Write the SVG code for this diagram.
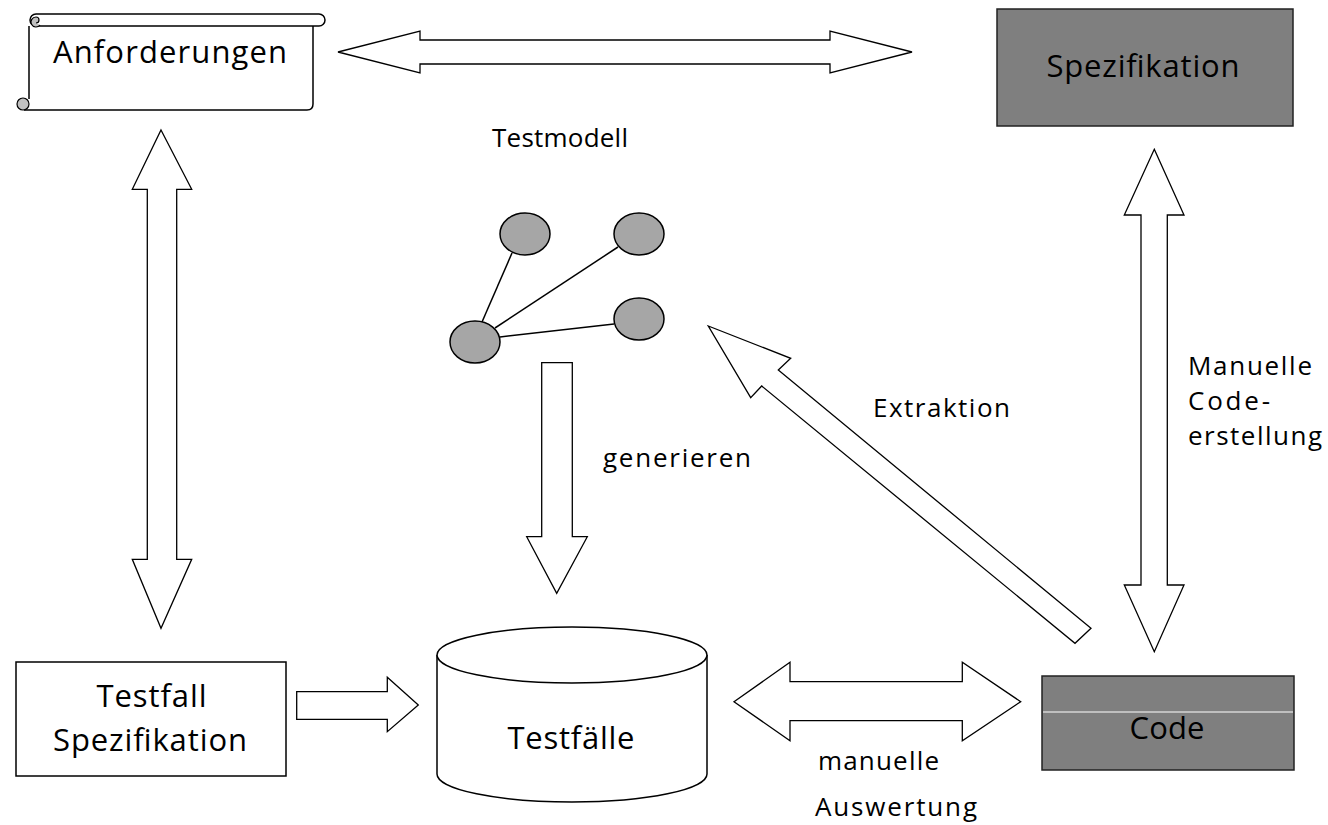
<svg xmlns="http://www.w3.org/2000/svg" width="1328" height="825" viewBox="0 0 1328 825">
<style>
  .lbl { font-family: "Open Sans", "Noto Sans", sans-serif; fill: #000; }
  .big { font-size: 31px; }
  .sm { font-size: 26px; }
  .arrow { fill: #fff; stroke: #000; stroke-width: 1.3; stroke-linejoin: miter; }
  .edge { stroke: #000; stroke-width: 1.5; fill: none; }
  .node { fill: #a6a6a6; stroke: #000; stroke-width: 1.5; }
  .dark { fill: #7f7f7f; stroke: #222; stroke-width: 1.5; }
</style>
<rect width="1328" height="825" fill="#fff"/>

<g id="connectors">
  <!-- top horizontal double arrow -->
  <polygon class="arrow" points="338,52 420,31 420,40 830,40 830,31 912,52 830,73 830,64 420,64 420,73"/>
  <!-- left vertical double arrow -->
  <polygon class="arrow" points="161,130 191.7,189.3 176.7,189.3 176.7,559.3 191.7,559.3 161,628.3 132.3,559.3 147.3,559.3 147.3,189.3 132.3,189.3"/>
  <!-- right vertical double arrow -->
  <polygon class="arrow" points="1154.3,149.3 1184,215 1167.3,215 1167.3,585 1184,585 1154.3,651.7 1124.3,585 1141,585 1141,215 1124.3,215"/>
  <!-- generieren arrow -->
  <polygon class="arrow" points="541.7,362.7 572.3,362.7 572.3,536.7 587.3,536.7 556.7,593.3 526.7,536.7 541.7,536.7"/>
  <!-- Extraktion arrow -->
  <polygon class="arrow" points="708.3,326 790.7,358.3 778.3,370 1091,628.3 1075,643.3 761.7,386 750.7,397.7"/>
  <!-- Testfall Spezifikation -> Testfaelle -->
  <polygon class="arrow" points="296.7,691.7 387.3,691.7 387.3,677.3 418.3,705 387.3,731.7 387.3,719.3 296.7,719.3"/>
  <!-- manuelle Auswertung double arrow -->
  <polygon class="arrow" points="734,701.7 790,662.3 790,681.7 962.3,681.7 962.3,662.3 1020.7,701.7 962.3,740.7 962.3,720.7 790,720.7 790,740.7"/>
  <!-- Testmodell graph edges -->
  <line class="edge" x1="482" y1="322" x2="512" y2="253"/>
  <line class="edge" x1="495" y1="328" x2="618" y2="247"/>
  <line class="edge" x1="500" y1="337" x2="614" y2="324"/>
</g>

<g id="anforderungen">
  <path d="M29,26 V99 M24,110 H307 Q313,110 313,104 V26" fill="#fff" stroke="#000" stroke-width="1.5"/>
  <rect x="30" y="14" width="295" height="12" rx="6" fill="#fff" stroke="#000" stroke-width="1.5"/>
  <path d="M40,25 A5,5 0 1 1 36,17 A3,3 0 0 1 36,23" fill="#c0c0c0" stroke="#000" stroke-width="1.2"/>
  <circle cx="23" cy="104" r="6" fill="#c0c0c0" stroke="#000" stroke-width="1.2"/>
  <text class="lbl big" x="170" y="63" text-anchor="middle" textLength="234" lengthAdjust="spacing">Anforderungen</text>
</g>

<g id="spezifikation">
  <rect class="dark" x="997" y="9" width="296" height="117"/>
  <text class="lbl big" x="1143" y="77" text-anchor="middle" textLength="193" lengthAdjust="spacing">Spezifikation</text>
</g>

<g id="testmodell">
  <text class="lbl sm" x="560" y="147" text-anchor="middle" textLength="136" lengthAdjust="spacing">Testmodell</text>
  <ellipse class="node" cx="525" cy="234" rx="25" ry="21"/>
  <ellipse class="node" cx="639" cy="234" rx="25" ry="21"/>
  <ellipse class="node" cx="639" cy="319" rx="25" ry="21"/>
  <ellipse class="node" cx="475" cy="342" rx="25" ry="21"/>
</g>

<g id="testfall-spezifikation">
  <rect x="16" y="662" width="270" height="114" fill="#fff" stroke="#000" stroke-width="1.5"/>
  <text class="lbl big" x="151.5" y="707" text-anchor="middle" textLength="110" lengthAdjust="spacing">Testfall</text>
  <text class="lbl big" x="150" y="751" text-anchor="middle" textLength="194" lengthAdjust="spacing">Spezifikation</text>
</g>

<g id="testfaelle">
  <path d="M437,655 V774 A135,28 0 0 0 707,774 V655" fill="#fff" stroke="#000" stroke-width="1.5"/>
  <ellipse cx="572" cy="655" rx="135" ry="28" fill="#fff" stroke="#000" stroke-width="1.5"/>
  <text class="lbl big" x="571" y="749" text-anchor="middle" textLength="127" lengthAdjust="spacing">Testfälle</text>
</g>

<g id="code">
  <rect class="dark" x="1042" y="676" width="252" height="94" stroke="#000"/>
  <line x1="1043" y1="712" x2="1293" y2="712" stroke="#fff" stroke-width="1.2"/>
  <text class="lbl big" x="1167" y="739" text-anchor="middle" textLength="75" lengthAdjust="spacing">Code</text>
</g>

<g id="labels">
  <text class="lbl sm" x="603" y="467" textLength="148" lengthAdjust="spacing">generieren</text>
  <text class="lbl sm" x="873" y="417" textLength="137" lengthAdjust="spacing">Extraktion</text>
  <text class="lbl sm" x="1188" y="375" textLength="124" lengthAdjust="spacing">Manuelle</text>
  <text class="lbl sm" x="1188" y="410" textLength="82" lengthAdjust="spacing">Code-</text>
  <text class="lbl sm" x="1188" y="445" textLength="134" lengthAdjust="spacing">erstellung</text>
  <text class="lbl sm" x="818" y="770" textLength="121" lengthAdjust="spacing">manuelle</text>
  <text class="lbl sm" x="815" y="816" textLength="162" lengthAdjust="spacing">Auswertung</text>
</g>
</svg>
